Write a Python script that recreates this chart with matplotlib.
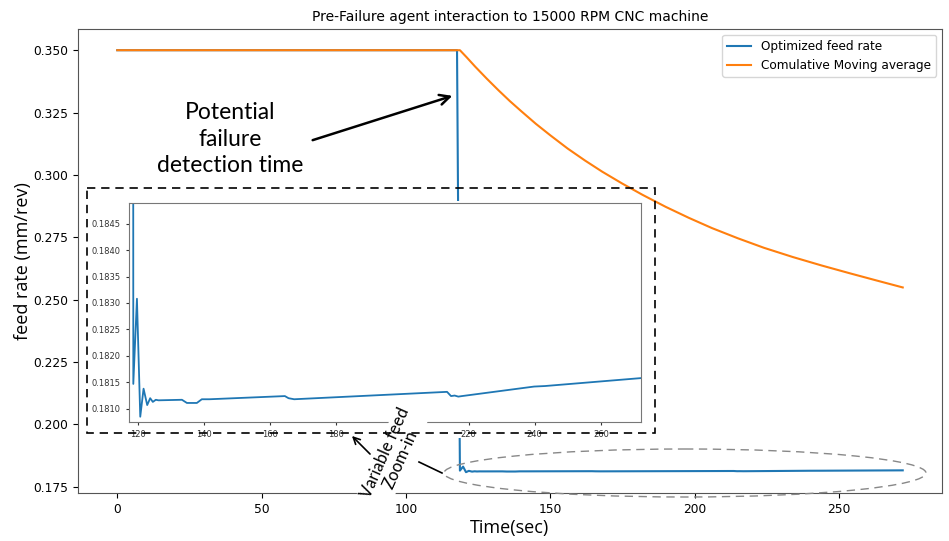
import numpy as np
import matplotlib
matplotlib.use("Agg")
import matplotlib.pyplot as plt
from matplotlib.patches import Rectangle, Ellipse
from matplotlib.ticker import MultipleLocator, FormatStrFormatter

# optimized feed rate (mm/rev), time in seconds
time_s = [0, 117.7, 118.7, 119.8, 120.8, 121.8, 122.9, 123.8, 124.6, 125.5,
          126.3, 133.4, 134.9, 137.9, 139.4, 141.7, 164.5, 165.6, 167.3,
          213.5, 214.7, 215.8, 216.9, 218.0, 239.8, 243.1, 272.1]
feed_rate = [0.35, 0.35, 0.18147, 0.18308, 0.18085, 0.18138, 0.18107, 0.18120,
             0.18113, 0.18117, 0.18116, 0.18117, 0.18111, 0.18111, 0.18118,
             0.18118, 0.18124, 0.18120, 0.18118, 0.18132, 0.18124, 0.18125,
             0.18123, 0.18124, 0.18142, 0.18143, 0.18158]

# cumulative moving average
cma_time = [0, 118.7, 121, 124, 128, 132, 136, 140, 145, 150, 156, 162, 168,
            175, 182, 190, 198, 206, 215, 224, 234, 244, 254, 263, 272.1]
cma_rate = [0.35, 0.35, 0.3472, 0.3434, 0.3386, 0.3340, 0.3296, 0.3255,
            0.3205, 0.3159, 0.3106, 0.3058, 0.3013, 0.2965, 0.2920, 0.2872,
            0.2828, 0.2787, 0.2746, 0.2708, 0.2671, 0.2637, 0.2605, 0.2577,
            0.2549]

W, H = 949, 541
fig = plt.figure(figsize=(W / 100, H / 100), dpi=100)

def frac(x0, y0, x1, y1):
    # pixel box (top-left origin) -> figure fraction rect
    return [x0 / W, 1 - y1 / H, (x1 - x0) / W, (y1 - y0) / H]

ax = fig.add_axes(frac(78, 29, 942, 493))
ax.plot(time_s, feed_rate, color="#1f77b4", lw=1.5, label="Optimized feed rate")
ax.plot(cma_time, cma_rate, color="#ff7f0e", lw=1.5, label="Comulative Moving average")
ax.set_xlim(-13.6, 285.7)
ax.set_ylim(0.1725, 0.3585)
ax.yaxis.set_major_locator(MultipleLocator(0.025))
ax.yaxis.set_major_formatter(FormatStrFormatter("%.3f"))
ax.tick_params(labelsize=8.8)
for s in ax.spines.values():
    s.set_color("#555555")
ax.set_title("Pre-Failure agent interaction to 15000 RPM CNC machine", fontsize=10)
ax.set_xlabel("Time(sec)", fontsize=13, family="Open Sans", labelpad=2)
ax.set_ylabel("feed rate (mm/rev)", fontsize=13, family="Open Sans", labelpad=1)
ax.legend(loc="upper right", fontsize=8.7)

# white patch that the pasted zoom-in sits on
fig.add_artist(Rectangle((92 / W, 1 - 438 / H), (645 - 92) / W, (438 - 201) / H,
                         transform=fig.transFigure, fc="white", ec="none", zorder=1))

ins = fig.add_axes(frac(129, 203, 641, 422))
ins.set_zorder(2)
ins.set_facecolor("white")
ins.plot(time_s, feed_rate, color="#1f77b4", lw=1.3)
ins.set_xlim(117.4, 272.1)
ins.set_ylim(0.18075, 0.18489)
ins.xaxis.set_major_locator(MultipleLocator(20))
ins.yaxis.set_major_locator(MultipleLocator(0.0005))
ins.yaxis.set_major_formatter(FormatStrFormatter("%.4f"))
ins.tick_params(labelsize=6, length=2.5, colors="#333333")
for s in ins.spines.values():
    s.set_color("#777777")

# annotation layer in pixel coordinates
ov = fig.add_axes([0, 0, 1, 1])
ov.set_zorder(5)
ov.set_xlim(0, W)
ov.set_ylim(H, 0)
ov.axis("off")
ov.patch.set_alpha(0)

ov.add_patch(Rectangle((87, 188), 568, 245, fill=False, ec="black",
                       lw=1.2, ls=(0, (5, 3.5)), zorder=4))
ov.add_patch(Ellipse((685, 473), 482, 48, fill=False, ec="#888888",
                     lw=1.0, ls=(0, (6, 4)), zorder=4))

ov.text(230, 139, "Potential\nfailure\ndetection time", ha="center", va="center",
        fontsize=16.5, family="Lato", linespacing=1.3)
ov.annotate("", xy=(455, 95), xytext=(310, 141),
            arrowprops=dict(arrowstyle="->", lw=1.8, color="black", mutation_scale=18))

ov.text(393, 456, "Variable feed\nZoom-in", rotation=66, ha="center", va="center",
        multialignment="center", fontsize=12, family="Lato", linespacing=1.05,
        bbox=dict(fc="white", ec="none", pad=1), zorder=3)
ov.annotate("", xy=(350, 434), xytext=(372, 456),
            arrowprops=dict(arrowstyle="->", lw=1.2, color="black", mutation_scale=12))
ov.plot([419, 442], [462, 473], color="black", lw=1.2)

fig.savefig("out.png", dpi=100)
